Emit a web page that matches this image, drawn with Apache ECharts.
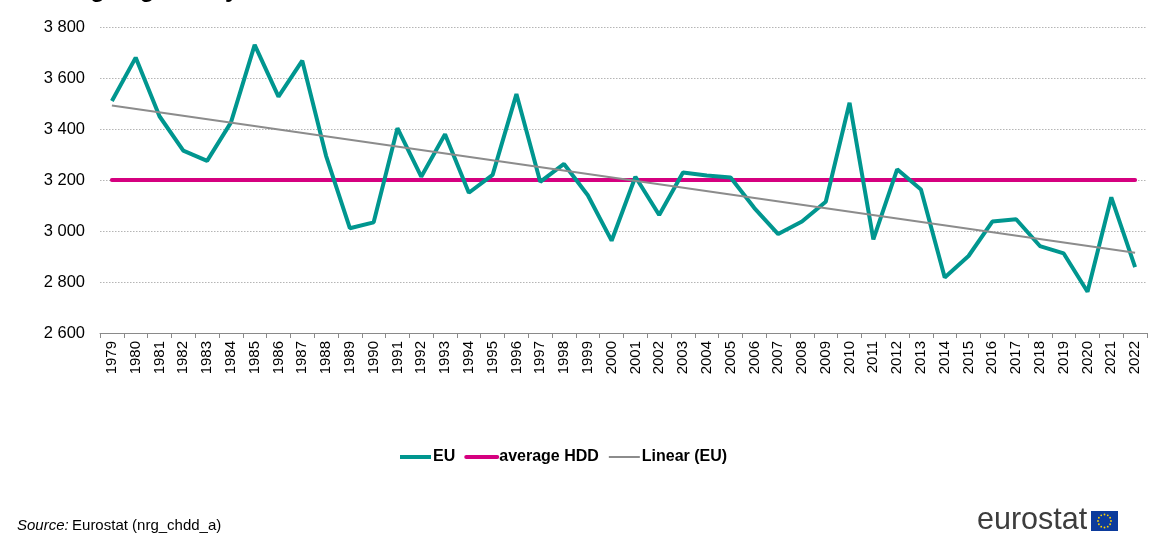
<!DOCTYPE html>
<html><head><meta charset="utf-8">
<script src="https://cdn.jsdelivr.net/npm/echarts@6/dist/echarts.min.js"></script>
<style>html,body{margin:0;padding:0;background:#fff}#c{width:1151px;height:549px}</style>
</head><body><div id="c"></div>
<script>
var years = ['1979','1980','1981','1982','1983','1984','1985','1986','1987','1988','1989','1990','1991','1992','1993','1994','1995','1996','1997','1998','1999','2000','2001','2002','2003','2004','2005','2006','2007','2008','2009','2010','2011','2012','2013','2014','2015','2016','2017','2018','2019','2020','2021','2022'];
var euHDD = [3510,3680,3450,3315,3275,3425,3730,3527,3668,3295,3011,3034,3403,3213,3379,3150,3220,3537,3193,3263,3140,2962,3213,3063,3229,3218,3210,3090,2988,3037,3115,3503,2967,3242,3163,2818,2902,3037,3046,2941,2912,2762,3132,2858];
var averageHDD = [['1979',3200],['2022',3200]];
var linearEU = [['1979',3492],['2022',2915]];
var yTicks = {min:2600, max:3800, interval:200};

var chart = echarts.init(document.getElementById('c'));
var font = 'Liberation Sans, Arial, sans-serif';
function fmt(v){ var s=String(v); return s.length>3 ? s.slice(0,s.length-3)+' '+s.slice(-3) : s; }

var stars = [];
for (var i=0;i<12;i++){
  var a = i*Math.PI/6;
  stars.push({type:'circle', shape:{cx:1104.5+6.5*Math.cos(a), cy:521+6.5*Math.sin(a), r:0.9}, style:{fill:'#ffd500'}});
}

chart.setOption({
  animation:false,
  textStyle:{fontFamily:font},
  grid:{left:100,right:4,top:27,bottom:216,containLabel:false},
  legend:{
    left:393, top:444, itemWidth:31, itemHeight:4, itemGap:9,
    itemStyle:{opacity:0},
    textStyle:{fontFamily:font,fontSize:16,fontWeight:'bold',color:'#000',padding:[0,0,0,-3]},
    data:[
      {name:'EU',lineStyle:{width:4,color:'#00968f'}},
      {name:'average HDD',lineStyle:{width:4,color:'#d5007f'}},
      {name:'Linear (EU)',lineStyle:{width:2,color:'#8c8c8c'}}
    ]
  },
  xAxis:{
    type:'category', data:years, boundaryGap:true,
    axisLine:{show:true,lineStyle:{color:'#8a8a8a',width:1}},
    axisTick:{show:true,length:5,lineStyle:{color:'#8a8a8a'}},
    axisLabel:{rotate:90,fontSize:15,color:'#000',margin:8,fontFamily:font,interval:0}
  },
  yAxis:{
    type:'value', min:yTicks.min, max:yTicks.max, interval:yTicks.interval,
    axisLine:{show:false}, axisTick:{show:false},
    axisLabel:{fontSize:16.5,color:'#000',margin:15,fontFamily:font,formatter:fmt},
    splitLine:{show:true,lineStyle:{color:'#b5b5b5',type:[1.5,1.5],width:1}}
  },
  series:[
    {name:'EU',type:'line',data:euHDD,symbol:'none',z:3,
     lineStyle:{color:'#00968f',width:4},itemStyle:{color:'#00968f'}},
    {name:'average HDD',type:'line',data:averageHDD,symbol:'none',z:2,
     lineStyle:{color:'#d5007f',width:4,cap:'round'},itemStyle:{color:'#d5007f'}},
    {name:'Linear (EU)',type:'line',data:linearEU,symbol:'none',z:4,
     lineStyle:{color:'#8c8c8c',width:2},itemStyle:{color:'#8c8c8c'}}
  ],
  graphic:[
    {type:'text',left:17,top:-22,style:{text:'Heating degree days in the EU',fontSize:24,fontWeight:'bold',fontFamily:font,fill:'#000'}},
    {type:'text',left:17,top:518,style:{
      text:'{i|Source:} {n|Eurostat (nrg_chdd_a)}',
      rich:{i:{fontStyle:'italic',fontSize:15,fontFamily:font,fill:'#000'},n:{fontSize:15,fontFamily:font,fill:'#000'}}
    }},
    {type:'text',left:977,top:505,style:{text:'eurostat',fontSize:30.5,fontFamily:font,fill:'#3d3d3d'}},
    {type:'group',children:[{type:'rect',shape:{x:1091,y:511,width:27,height:20},style:{fill:'#0c3b9c'}}].concat(stars)}
  ]
});
</script></body></html>
